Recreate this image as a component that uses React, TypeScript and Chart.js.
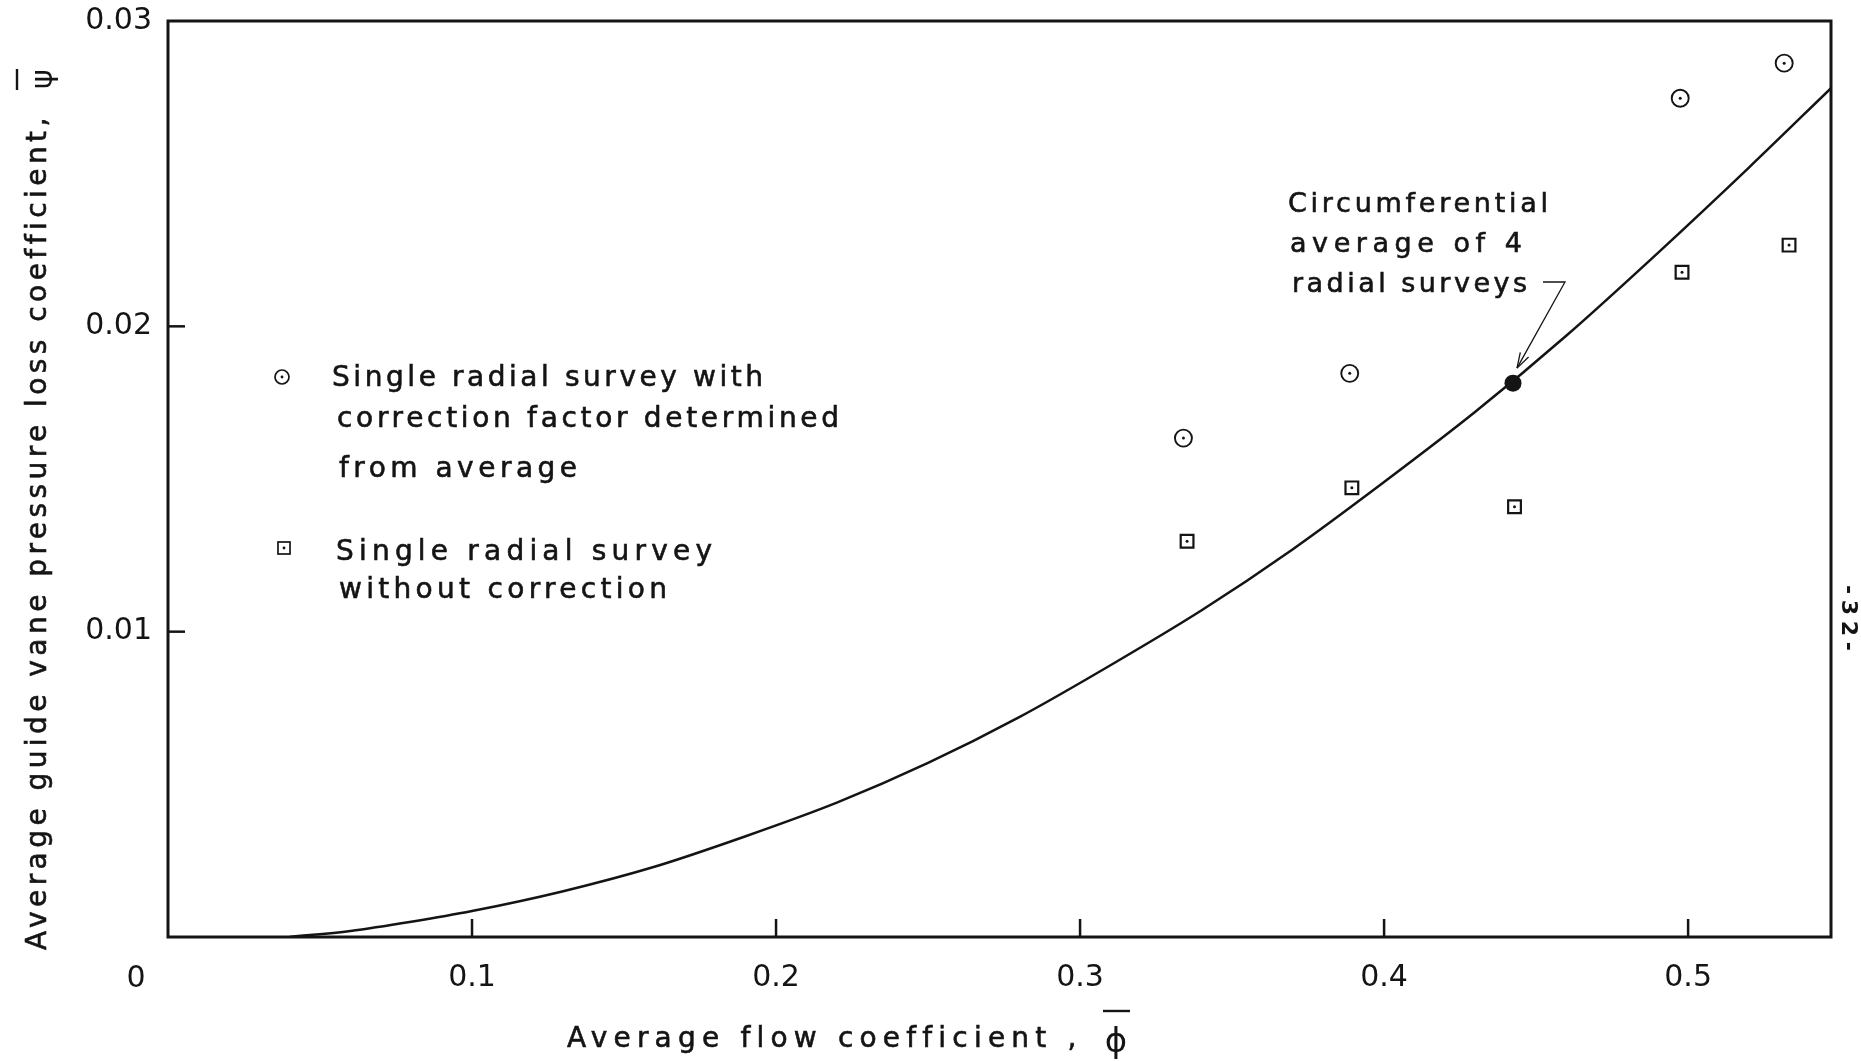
import { useEffect, useRef } from 'react';
import { Chart, registerables } from 'chart.js';

Chart.register(...registerables);

// ---- data ----
const curvePhi = [0.04, 0.06, 0.08, 0.1, 0.13, 0.16, 0.19, 0.22, 0.25, 0.28, 0.31, 0.34, 0.37, 0.4, 0.43, 0.46, 0.49, 0.52, 0.547];
const curvePsi = [0.0, 0.0002, 0.0005, 0.00085, 0.0015, 0.0023, 0.0033, 0.0044, 0.0057, 0.0072, 0.0089, 0.0107, 0.0127, 0.0149, 0.0172, 0.0197, 0.0224, 0.0252, 0.0278];

const corrPhi = [0.334, 0.3887, 0.4974, 0.5316];
const corrPsi = [0.01634, 0.01846, 0.02747, 0.02862];

const uncorrPhi = [0.3352, 0.3894, 0.4429, 0.498, 0.5332];
const uncorrPsi = [0.01296, 0.01471, 0.01409, 0.02177, 0.02266];

const avgPhi = [0.4424];
const avgPsi = [0.01814];

const xTicks = [0.1, 0.2, 0.3, 0.4, 0.5];
const xTickLabels = ['0.1', '0.2', '0.3', '0.4', '0.5'];
const yTicks = [0.01, 0.02, 0.03];
const yTickLabels = ['0.01', '0.02', '0.03'];
const originLabel = '0';

const legendCorr = ['Single radial survey with', 'correction factor determined', 'from average'];
const legendUncorr = ['Single radial survey', 'without correction'];
const noteLines = ['Circumferential', 'average of 4', 'radial surveys'];
const xTitle = 'Average flow coefficient ,';
const xSymbol = 'ϕ';
const yTitle = 'Average guide vane pressure loss coefficient,';
const ySymbol = 'ψ';
const pageNumber = '-32-';

const FONT = '"DejaVu Sans", sans-serif';
const INK = '#141414';
const TARGET_TOP = 21;

const toPts = (xs: number[], ys: number[]) => xs.map((x, i) => ({ x, y: ys[i] }));

function spaced(ctx: CanvasRenderingContext2D, text: string, x: number, y: number, width: number, bold = 0.6) {
  (ctx as any).letterSpacing = '0px';
  const w = ctx.measureText(text).width;
  const n = Array.from(text).length;
  const ls = n > 1 ? (width - w) / (n - 1) : 0;
  (ctx as any).letterSpacing = `${ls}px`;
  ctx.fillText(text, x, y);
  if (bold > 0) {
    const lw = ctx.lineWidth;
    ctx.lineWidth = bold;
    ctx.strokeText(text, x, y);
    ctx.lineWidth = lw;
  }
  (ctx as any).letterSpacing = '0px';
}

const decorPlugin = {
  id: 'decor',
  beforeDraw(chart: any) {
    const ctx = chart.ctx as CanvasRenderingContext2D;
    ctx.save();
    ctx.fillStyle = '#fff';
    ctx.fillRect(0, 0, chart.width, chart.height);
    ctx.restore();
  },
  afterDraw(chart: any) {
    const ctx = chart.ctx as CanvasRenderingContext2D;
    const { left, right, top, bottom } = chart.chartArea;
    const xs = chart.scales.x;
    const ys = chart.scales.y;
    ctx.save();
    ctx.strokeStyle = INK;
    ctx.fillStyle = INK;

    // frame
    ctx.lineWidth = 3;
    ctx.strokeRect(left, top, right - left, bottom - top);

    // inward ticks
    ctx.lineWidth = 2.5;
    xTicks.forEach((v) => {
      const px = xs.getPixelForValue(v);
      ctx.beginPath();
      ctx.moveTo(px, bottom);
      ctx.lineTo(px, bottom - 18);
      ctx.stroke();
    });
    yTicks.slice(0, 2).forEach((v) => {
      const py = ys.getPixelForValue(v);
      ctx.beginPath();
      ctx.moveTo(left, py);
      ctx.lineTo(left + 17, py);
      ctx.stroke();
    });

    // origin label
    ctx.font = `30px ${FONT}`;
    ctx.textAlign = 'center';
    ctx.textBaseline = 'middle';
    ctx.fillText(originLabel, xs.getPixelForValue(0) - 32, 979);

    // legend
    ctx.textAlign = 'left';
    ctx.textBaseline = 'alphabetic';
    ctx.font = `28px ${FONT}`;
    const lw = [431, 502, 238];
    const lx = [332, 337, 339];
    const lb = [386, 427, 477];
    legendCorr.forEach((t, i) => spaced(ctx, t, lx[i], lb[i], lw[i]));
    const lw2 = [376, 328];
    const lx2 = [336, 339];
    const lb2 = [560, 598];
    legendUncorr.forEach((t, i) => spaced(ctx, t, lx2[i], lb2[i], lw2[i]));
    ctx.lineWidth = 1.7;
    ctx.beginPath();
    ctx.arc(282, 377, 7, 0, Math.PI * 2);
    ctx.stroke();
    ctx.beginPath();
    ctx.arc(282, 377, 1.4, 0, Math.PI * 2);
    ctx.fill();
    ctx.strokeRect(278, 542, 12, 12);
    ctx.beginPath();
    ctx.arc(284, 548, 1.4, 0, Math.PI * 2);
    ctx.fill();

    // annotation
    ctx.font = `27px ${FONT}`;
    const nw = [260, 232, 235];
    const nx = [1288, 1290, 1292];
    const nb = [212, 252, 292];
    noteLines.forEach((t, i) => spaced(ctx, t, nx[i], nb[i], nw[i]));
    const tipX = xs.getPixelForValue(avgPhi[0]) + 4;
    const tipY = ys.getPixelForValue(avgPsi[0]) - 15;
    ctx.lineWidth = 1.3;
    ctx.beginPath();
    ctx.moveTo(1543, 282);
    ctx.lineTo(1565, 282);
    ctx.lineTo(tipX, tipY);
    ctx.stroke();
    const ang = Math.atan2(tipY - 282, tipX - 1565);
    ctx.beginPath();
    [0.3, -0.3].forEach((d) => {
      ctx.moveTo(tipX, tipY);
      ctx.lineTo(tipX - 16 * Math.cos(ang + d), tipY - 16 * Math.sin(ang + d));
    });
    ctx.stroke();

    // x title
    ctx.font = `28px ${FONT}`;
    spaced(ctx, xTitle, 567, 1047, 509);
    ctx.font = `34px ${FONT}`;
    ctx.textAlign = 'center';
    ctx.fillText(xSymbol, 1116, 1052);
    ctx.lineWidth = 2.4;
    ctx.beginPath();
    ctx.moveTo(1103, 1011);
    ctx.lineTo(1130, 1011);
    ctx.stroke();

    // y title
    ctx.save();
    ctx.translate(46, 950);
    ctx.rotate(-Math.PI / 2);
    ctx.textAlign = 'left';
    ctx.font = `28px ${FONT}`;
    spaced(ctx, yTitle, 0, 0, 832);
    ctx.textAlign = 'center';
    ctx.font = `30px ${FONT}`;
    ctx.fillText(ySymbol, 871, 6);
    ctx.restore();
    ctx.lineWidth = 2.4;
    ctx.beginPath();
    ctx.moveTo(17, 69);
    ctx.lineTo(17, 90);
    ctx.stroke();

    // page number
    ctx.save();
    ctx.translate(1842, 585);
    ctx.rotate(Math.PI / 2);
    ctx.textAlign = 'left';
    ctx.font = `bold 22px ${FONT}`;
    spaced(ctx, pageNumber, 0, 0, 66, 0);
    ctx.restore();

    ctx.restore();
  },
};

export default function App() {
  const ref = useRef<HTMLCanvasElement>(null);
  useEffect(() => {
    document.body.style.margin = '0';
    const canvas = ref.current!;
    const chart = new Chart(canvas, {
      type: 'scatter',
      data: {
        datasets: [
          {
            label: 'dots',
            data: [...toPts(corrPhi, corrPsi), ...toPts(uncorrPhi, uncorrPsi)],
            pointRadius: 1.5,
            pointBackgroundColor: INK,
            pointBorderWidth: 0,
            showLine: false,
          },
          {
            label: 'corrected',
            data: toPts(corrPhi, corrPsi),
            pointStyle: 'circle',
            pointRadius: 8.5,
            pointBorderWidth: 1.9,
            pointBorderColor: INK,
            pointBackgroundColor: 'rgba(0,0,0,0)',
            showLine: false,
          },
          {
            label: 'uncorrected',
            data: toPts(uncorrPhi, uncorrPsi),
            pointStyle: 'rect',
            pointRadius: 9,
            pointBorderWidth: 2.2,
            pointBorderColor: INK,
            pointBackgroundColor: 'rgba(0,0,0,0)',
            showLine: false,
          },
          {
            label: 'average',
            data: toPts(avgPhi, avgPsi),
            pointStyle: 'circle',
            pointRadius: 8.5,
            pointBorderWidth: 0,
            pointBackgroundColor: INK,
            showLine: false,
          },
          {
            type: 'line',
            label: 'curve',
            data: toPts(curvePhi, curvePsi),
            borderColor: INK,
            borderWidth: 2.5,
            pointRadius: 0,
            cubicInterpolationMode: 'monotone',
            fill: false,
          } as any,
        ],
      },
      options: {
        animation: false,
        responsive: false,
        devicePixelRatio: 1,
        layout: { padding: { top: TARGET_TOP, right: 30, left: 0, bottom: 0 } },
        plugins: { legend: { display: false }, tooltip: { enabled: false } },
        scales: {
          x: {
            type: 'linear',
            min: 0,
            max: 0.547,
            grid: { display: false, drawTicks: false },
            border: { display: false },
            afterBuildTicks: (s: any) => {
              s.ticks = xTicks.map((v) => ({ value: v }));
            },
            afterFit: (s: any) => {
              s.height = 124;
              s.paddingLeft = 0;
              s.paddingRight = 0;
            },
            ticks: {
              autoSkip: false,
              maxRotation: 0,
              padding: 23,
              color: INK,
              font: { family: FONT, size: 30 },
              callback: (_v: any, i: number) => xTickLabels[i],
            },
          },
          y: {
            type: 'linear',
            min: 0,
            max: 0.03,
            grid: { display: false, drawTicks: false },
            border: { display: false },
            afterBuildTicks: (s: any) => {
              s.ticks = yTicks.map((v) => ({ value: v }));
            },
            afterFit: (s: any) => {
              s.width = 168;
              s.paddingTop = 0;
              s.paddingBottom = 0;
            },
            ticks: {
              autoSkip: false,
              padding: 16,
              color: INK,
              font: { family: FONT, size: 30 },
              callback: (_v: any, i: number) => yTickLabels[i],
            },
          },
        },
      } as any,
      plugins: [decorPlugin],
    });
    const delta = TARGET_TOP - chart.chartArea.top;
    if (Math.abs(delta) > 0.5) {
      (chart.options as any).layout.padding.top = Math.max(0, TARGET_TOP + delta);
      chart.update();
    }
    return () => chart.destroy();
  }, []);
  return (
    <div style={{ position: 'fixed', left: 0, top: 0, width: 1861, height: 1061, background: '#fff' }}>
      <canvas ref={ref} width={1861} height={1061} style={{ display: 'block', width: 1861, height: 1061 }} />
    </div>
  );
}
